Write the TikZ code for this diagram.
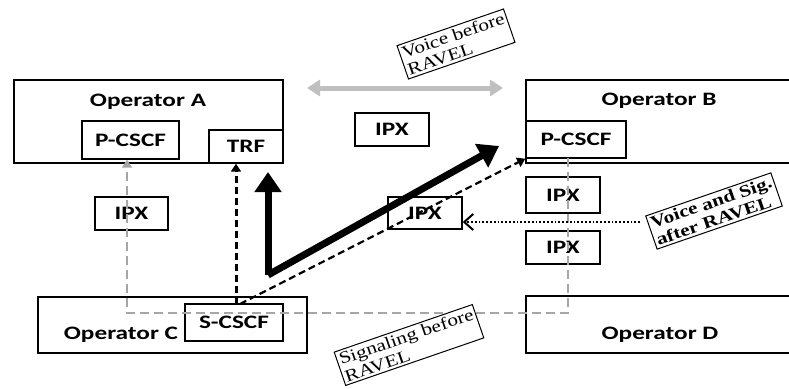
\documentclass[tikz,border=0pt]{standalone}
\usepackage{fontspec}
\setmainfont{Liberation Serif}
\newfontfamily\lblfont[FakeStretch=1.33]{Carlito}
\newfontfamily\notefont[FakeStretch=1.25]{Liberation Serif}
\usetikzlibrary{arrows.meta,calc}

\begin{document}
\begin{tikzpicture}[x=1pt,y=-1pt,
  box/.style={draw=black, line width=1.4pt, inner sep=0pt},
  lbl/.style={font=\lblfont\bfseries\fontsize{19}{19}\selectfont, inner sep=0pt},
  note/.style={draw=black, line width=1pt, fill=white, align=left, inner sep=2.5pt,
    font=\notefont\fontsize{17}{18}\selectfont, rotate=19},
  voice/.style={line width=7pt, -{Triangle[width=26pt,length=20pt]}},
  grayvoice/.style={line width=5pt, draw=black!25, {Triangle[width=16pt,length=13pt]}-{Triangle[width=16pt,length=13pt]}},
  sigdash/.style={dash pattern=on 7pt off 4pt, -{Triangle[width=10pt,length=8pt]}},
  graysig/.style={line width=2.6pt, draw=black!35, dash pattern=on 9pt off 5pt, -{Triangle[width=10pt,length=8pt]}},
  newsig/.style={line width=1.8pt, dotted, -{Straight Barb[width=16pt,length=9pt,line width=2pt]}}
]
\useasboundingbox (0,0) rectangle (789,388);

% operator domains
\node[box, minimum width=269pt, minimum height=83pt] (opA) at (148.5,121.5) {};
\node[box, minimum width=266pt, minimum height=83pt] (opB) at (659,121.5) {};
\node[box, minimum width=269pt, minimum height=56pt] (opC) at (172.5,325) {};
\node[box, minimum width=266pt, minimum height=57pt] (opD) at (659,324.5) {};
\node[lbl] (opAt) at (148,102) {Operator A};
\node[lbl] (opBt) at (659,101) {Operator B};
\node[lbl] (opCt) at (121,335) {Operator C};
\node[lbl] (opDt) at (660,335) {Operator D};

% functions inside the operators
\node[box, lbl, minimum width=97pt, minimum height=38pt] (pcscfA) at (130.5,140) {P-CSCF};
\node[box, lbl, minimum width=74pt, minimum height=33pt] (trf) at (246,146.5) {TRF};
\node[box, lbl, minimum width=100pt, minimum height=37pt] (pcscfB) at (576,139.5) {P-CSCF};
\node[box, lbl, minimum width=98pt, minimum height=37pt] (scscf) at (234,322.5) {S-CSCF};

% IPX carriers
\node[box, lbl, minimum width=73pt, minimum height=33pt] (ipxL) at (131.5,213.5) {IPX};
\node[box, lbl, minimum width=74pt, minimum height=33pt] (ipxT) at (392,129.5) {IPX};
\node[box, lbl, minimum width=74pt, minimum height=32pt] (ipxM) at (425,213) {IPX};
\node[box, lbl, minimum width=74pt, minimum height=36pt] (ipxB1) at (563,195) {IPX};
\node[box, lbl, minimum width=74pt, minimum height=33pt] (ipxB2) at (563,247.5) {IPX};

% signaling before RAVEL (gray, dashed)
\coordinate (gs0) at (568,158);
\coordinate (gs1) at (568,313);
\coordinate (gs2) at (127,313);
\draw[graysig] (gs0) -- (gs1) -- (gs2) -- (gs2 |- pcscfA.south);

% voice before RAVEL (gray, two-headed)
\coordinate (gv0) at (307,88);
\coordinate (gv1) at (503,88);
\draw[grayvoice] (gv0) -- (gv1);

% signaling after RAVEL (black, dashed)
\coordinate (sTop) at (236,304);
\draw[sigdash, line width=3pt] (sTop) -- (sTop |- trf.south);
\coordinate (sDiag) at (240,304);
\draw[sigdash, line width=2.2pt] (sDiag) -- (pcscfB.south west);

% voice after RAVEL (thick black)
\coordinate (vc) at (268,275);
\coordinate (vUp) at (268,172);
\coordinate (vDiag) at (499,146);
\draw[voice, line join=miter] (vc) -- (vUp);
\draw[voice, line join=miter] (vc) -- (vDiag);

% notes
\node[note] (nVb) at (456,44) {Voice before\\RAVEL};
\node[note] (nSb) at (409,345) {Signaling before\\RAVEL};
\node[note, font=\notefont\bfseries\fontsize{17}{18}\selectfont] (nVs) at (714,211) {Voice and Sig.\\after RAVEL};

\coordinate (dS) at (640,222);
\draw[newsig] (dS) -- (dS -| ipxM.east);
\end{tikzpicture}
\end{document}
